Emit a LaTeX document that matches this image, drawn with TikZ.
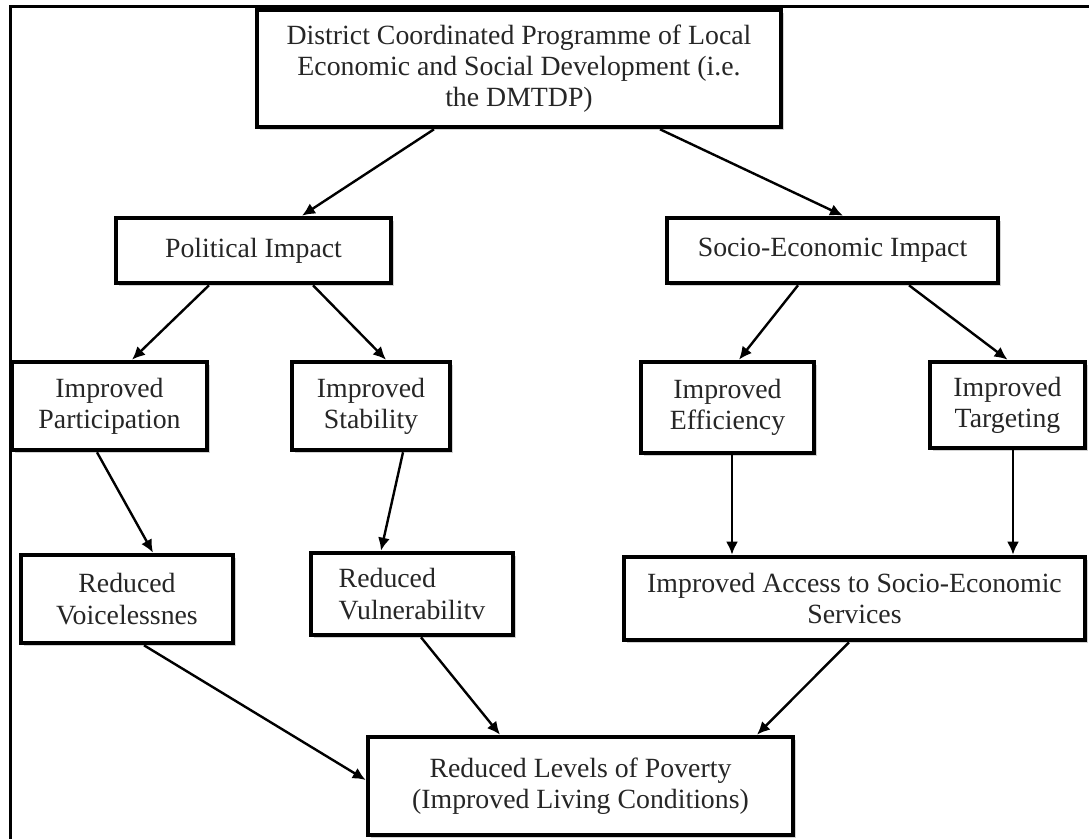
\documentclass[tikz,border=0pt]{standalone}
\usepackage{fontspec}
\setmainfont{Liberation Serif}
\usetikzlibrary{arrows.meta,shadows,calc}

\tikzset{
  box/.style={draw=black, line width=2.3pt, fill=white, align=center, inner sep=2pt,
    font=\fontsize{13.9pt}{15.6pt}\selectfont, text=black!85,
    drop shadow={shadow xshift=1.5pt, shadow yshift=-1.5pt, opacity=0.35}},
  link/.style={line width=1.2pt, -{Latex[length=6.5pt,width=6pt]}}
}

\begin{document}
\begin{tikzpicture}[x=0.5pt,y=-0.5pt]
\useasboundingbox (0,0) rectangle (1089,839);
\clip (0,0) rectangle (1089,839);
\fill[white] (0,0) rectangle (1089,839);
\draw[line width=1.5pt] (10,1000) -- (10,7) -- (1200,7);

\node[box, minimum width=262pt, minimum height=58.5pt] (prog) at (519,68.5)
  {District Coordinated Programme of Local\\Economic and Social Development (i.e.\\the DMTDP)};

\node[box, minimum width=137.5pt, minimum height=32.5pt] (pol) at (253.5,250.5) {Political Impact};
\node[box, minimum width=165.5pt, minimum height=32.5pt] (soc) at (832.5,250.5) {Socio-Economic Impact};

\node[box, minimum width=97.5pt, minimum height=44pt] (part) at (109.5,406) {Improved\\Participation};
\node[box, minimum width=79pt, minimum height=44pt] (stab) at (371,406) {Improved\\Stability};
\node[box, minimum width=86.5pt, minimum height=45.5pt] (eff) at (727.5,407.5) {Improved\\Efficiency};
\node[box, minimum width=77.5pt, minimum height=43pt] (targ) at (1007.5,405) {Improved\\Targeting};

\node[box, minimum width=106pt, minimum height=44pt] (voice) at (127,599) {Reduced\\Voicelessnes};
\node[box, minimum width=101pt, minimum height=41pt, align=left] (vuln) at (412,594) {Reduced\\Vulnerabilitv};
\node[box, minimum width=230.5pt, minimum height=41.5pt] (access) at (854.5,598.5)
  {Improved Access to Socio-Economic\\Services};

\node[box, minimum width=212.5pt, minimum height=49pt] (levels) at (580.5,786)
  {Reduced Levels of Poverty\\(Improved Living Conditions)};

\draw[link] ($(prog.south)+(-85,0)$) -- ($(pol.north)+(48.5,0)$);
\draw[link] ($(prog.south)+(141,0)$) -- ($(soc.north)+(10.5,0)$);
\draw[link] ($(pol.south)+(-44.5,0)$) -- ($(part.north)+(22.5,0)$);
\draw[link] ($(pol.south)+(59.5,0)$) -- ($(stab.north)+(15,0)$);
\draw[link] ($(soc.south)+(-34.5,0)$) -- ($(eff.north)+(11.5,0)$);
\draw[link] ($(soc.south)+(76.5,0)$) -- (targ.north);
\draw[link] ($(part.south)+(-12.5,0)$) -- ($(voice.north)+(26,0)$);
\draw[link] ($(stab.south)+(32,0)$) -- ($(vuln.north)+(-31,0)$);
\draw[link] ($(eff.south)+(4.5,0)$) -- ($(access.north)+(-122.5,0)$);
\draw[link] ($(targ.south)+(5.5,0)$) -- ($(access.north)+(158.5,0)$);
\draw[link] ($(voice.south)+(17,0)$) -- ($(levels.west)+(0,-6)$);
\draw[link] ($(vuln.south)+(9,0)$) -- ($(levels.north)+(-80.5,0)$);
\draw[link] ($(access.south)+(-5.5,0)$) -- ($(levels.north)+(176.5,0)$);
\end{tikzpicture}
\end{document}
